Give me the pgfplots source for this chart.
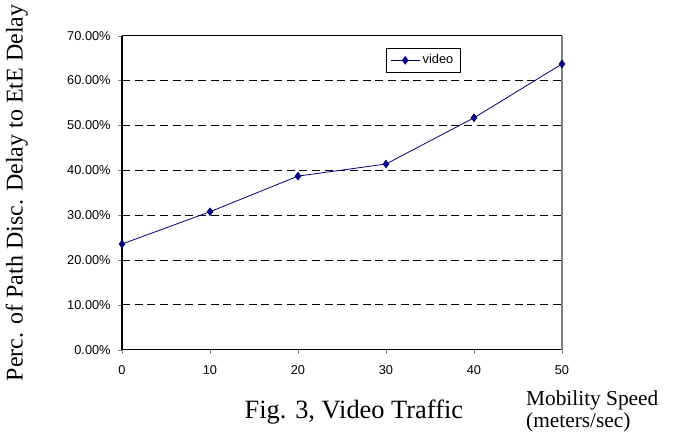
\documentclass[border=0pt]{standalone}
\usepackage{fontspec}
\setmainfont{Liberation Serif}
\newfontfamily\arial{Liberation Sans}
\usepackage{pgfplots}
\pgfplotsset{compat=1.18}
\definecolor{navy}{RGB}{0,0,128}
\begin{document}
\begin{tikzpicture}
\begin{axis}[
  name=ax,
  scale only axis,
  width=330pt, height=235.5pt,
  xmin=0, xmax=50, ymin=0, ymax=70,
  xtick={0,10,20,30,40,50},
  xticklabels={0,10,20,30,40,50},
  ytick={0,10,20,30,40,50,60,70},
  yticklabels={0.00\%,10.00\%,20.00\%,30.00\%,40.00\%,50.00\%,60.00\%,70.00\%},
  tick label style={font=\arial\fontsize{9.6}{10}\selectfont},
  xticklabel style={yshift=-5pt},
  yticklabel style={xshift=-2pt},
  tick align=outside, major tick length=3pt,
  xtick pos=bottom, ytick pos=left,
  axis x line*=bottom, axis y line*=left,
  axis line style={black, line width=0.8pt},
  ymajorgrids,
  grid style={black, dash pattern=on 6pt off 3.5pt, line width=0.6pt},
  clip=false,
  ylabel={Perc. of Path Disc. Delay to EtE Delay},
  ylabel style={at={(rel axis cs:-0.239,0.5)}, anchor=center, rotate=0, font=\fontsize{18}{20}\selectfont},
  legend style={at={(rel axis cs:0.6,0.962)}, anchor=north west, draw=black, line width=0.6pt,
    font=\arial\fontsize{9.6}{10}\selectfont, inner xsep=3pt, inner ysep=3pt, row sep=0pt},
  legend cell align=left,
  legend image code/.code={\draw[mark repeat=2,mark phase=2,#1] plot coordinates {(0cm,0cm) (0.38cm,0cm) (0.76cm,0cm)};},
]
\addplot[navy, line width=0.6pt, mark=diamond*, mark size=2.8pt, mark options={fill=navy}]
coordinates {
  (0, 23.56)
  (10, 30.76)
  (20, 38.70)
  (30, 41.40)
  (40, 51.70)
  (50, 63.70)
};
\addlegendentry{video}
\draw[black, line width=0.8pt] (rel axis cs:0,1) -- (rel axis cs:1,1);
\draw[gray, line width=0.8pt] (rel axis cs:1,0) -- (rel axis cs:1,1);
\node[anchor=base, font=\fontsize{19.8}{21}\selectfont] at (rel axis cs:0.527,-0.219) {Fig. 3, Video Traffic};
\node[anchor=base west, font=\fontsize{16}{18}\selectfont, inner sep=0pt] at (rel axis cs:0.918,-0.178) {Mobility Speed};
\node[anchor=base west, font=\fontsize{16}{18}\selectfont, inner sep=0pt] at (rel axis cs:0.918,-0.248) {(meters/sec)};
\end{axis}
\path ([shift={(-91.5pt,-64.5pt)}]ax.south west) rectangle ++(507.75pt,326.25pt);
\end{tikzpicture}
\end{document}
